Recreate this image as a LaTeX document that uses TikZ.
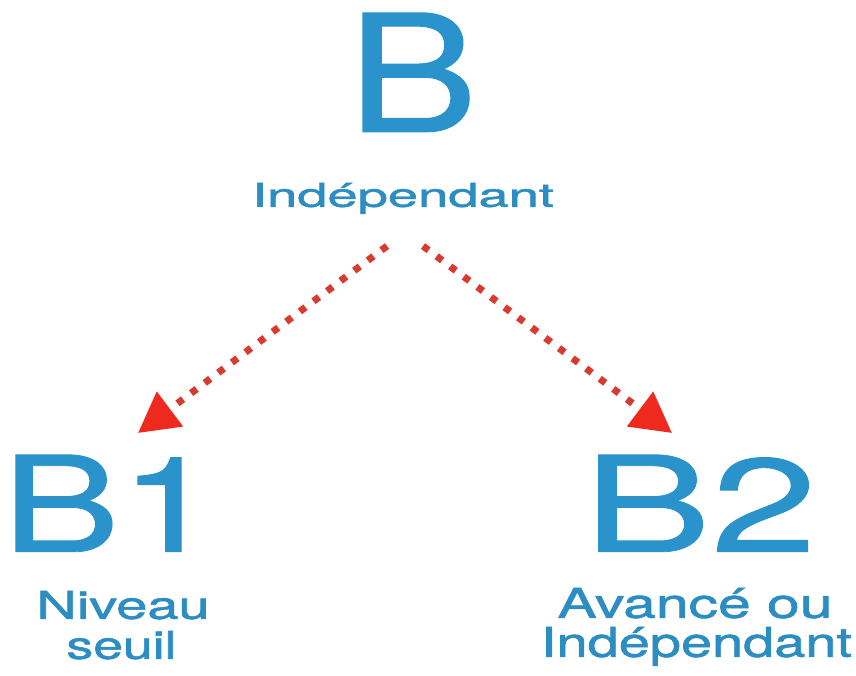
\documentclass[tikz,border=0pt]{standalone}
\usepackage{fontspec}
\setmainfont{TeX Gyre Heros}
\newfontfamily\medfont{TeX Gyre Heros}[FakeBold=1.2]
\newfontfamily\bigfont{TeX Gyre Heros}[FakeBold=0.6]
\usetikzlibrary{arrows.meta}
\definecolor{bblue}{HTML}{2A93CC}
\definecolor{lblue}{HTML}{2C8DC2}
\definecolor{dotred}{HTML}{D93A30}
\definecolor{headred}{HTML}{EE2A1E}
\newcommand{\fitbox}[3]{\resizebox{#1}{#2}{\raisebox{0pt}[\fontcharht\font`I][0pt]{#3}}}
\tikzset{
  big/.style={text=bblue, inner sep=0pt, anchor=south, font=\bigfont\fontsize{40}{40}\selectfont},
  lbl/.style={text=lblue, inner sep=0pt, anchor=south, font=\medfont\fontsize{20}{20}\selectfont},
  dotarrow/.style={draw=dotred, line width=7pt, dash pattern=on 7pt off 10pt,
    -{Triangle[length=40pt,width=42pt,color=headred]}}
}
\begin{document}
\begin{tikzpicture}[x=1pt,y=-1pt]
\useasboundingbox (0,0) rectangle (856,675);
\node[big] (B) at (412.7,132) {\fitbox{130pt}{119pt}{B}};
\node[lbl] (indep) at (403,207) {\fitbox{302pt}{24pt}{Indépendant}};
\node[big] (B1) at (110,552) {\fitbox{216pt}{97pt}{B1}};
\node[big] (B2) at (700.3,552) {\fitbox{233.5pt}{97pt}{B2}};
\node[lbl] (niv) at (123,619) {\fitbox{173pt}{28pt}{Niveau}};
\node[lbl] (seuil) at (121.5,659) {\fitbox{110pt}{28pt}{seuil}};
\node[lbl] (avance) at (695,618) {\fitbox{275pt}{30pt}{Avancé ou}};
\node[lbl] (indep2) at (696.5,657) {\fitbox{311pt}{30pt}{Indépendant}};
\coordinate (s1) at (387,246);
\coordinate (e1) at (138,433);
\coordinate (s2) at (423,246);
\coordinate (e2) at (672,433);
\draw[dotarrow] (s1) -- (e1);
\draw[dotarrow] (s2) -- (e2);
\end{tikzpicture}
\end{document}
